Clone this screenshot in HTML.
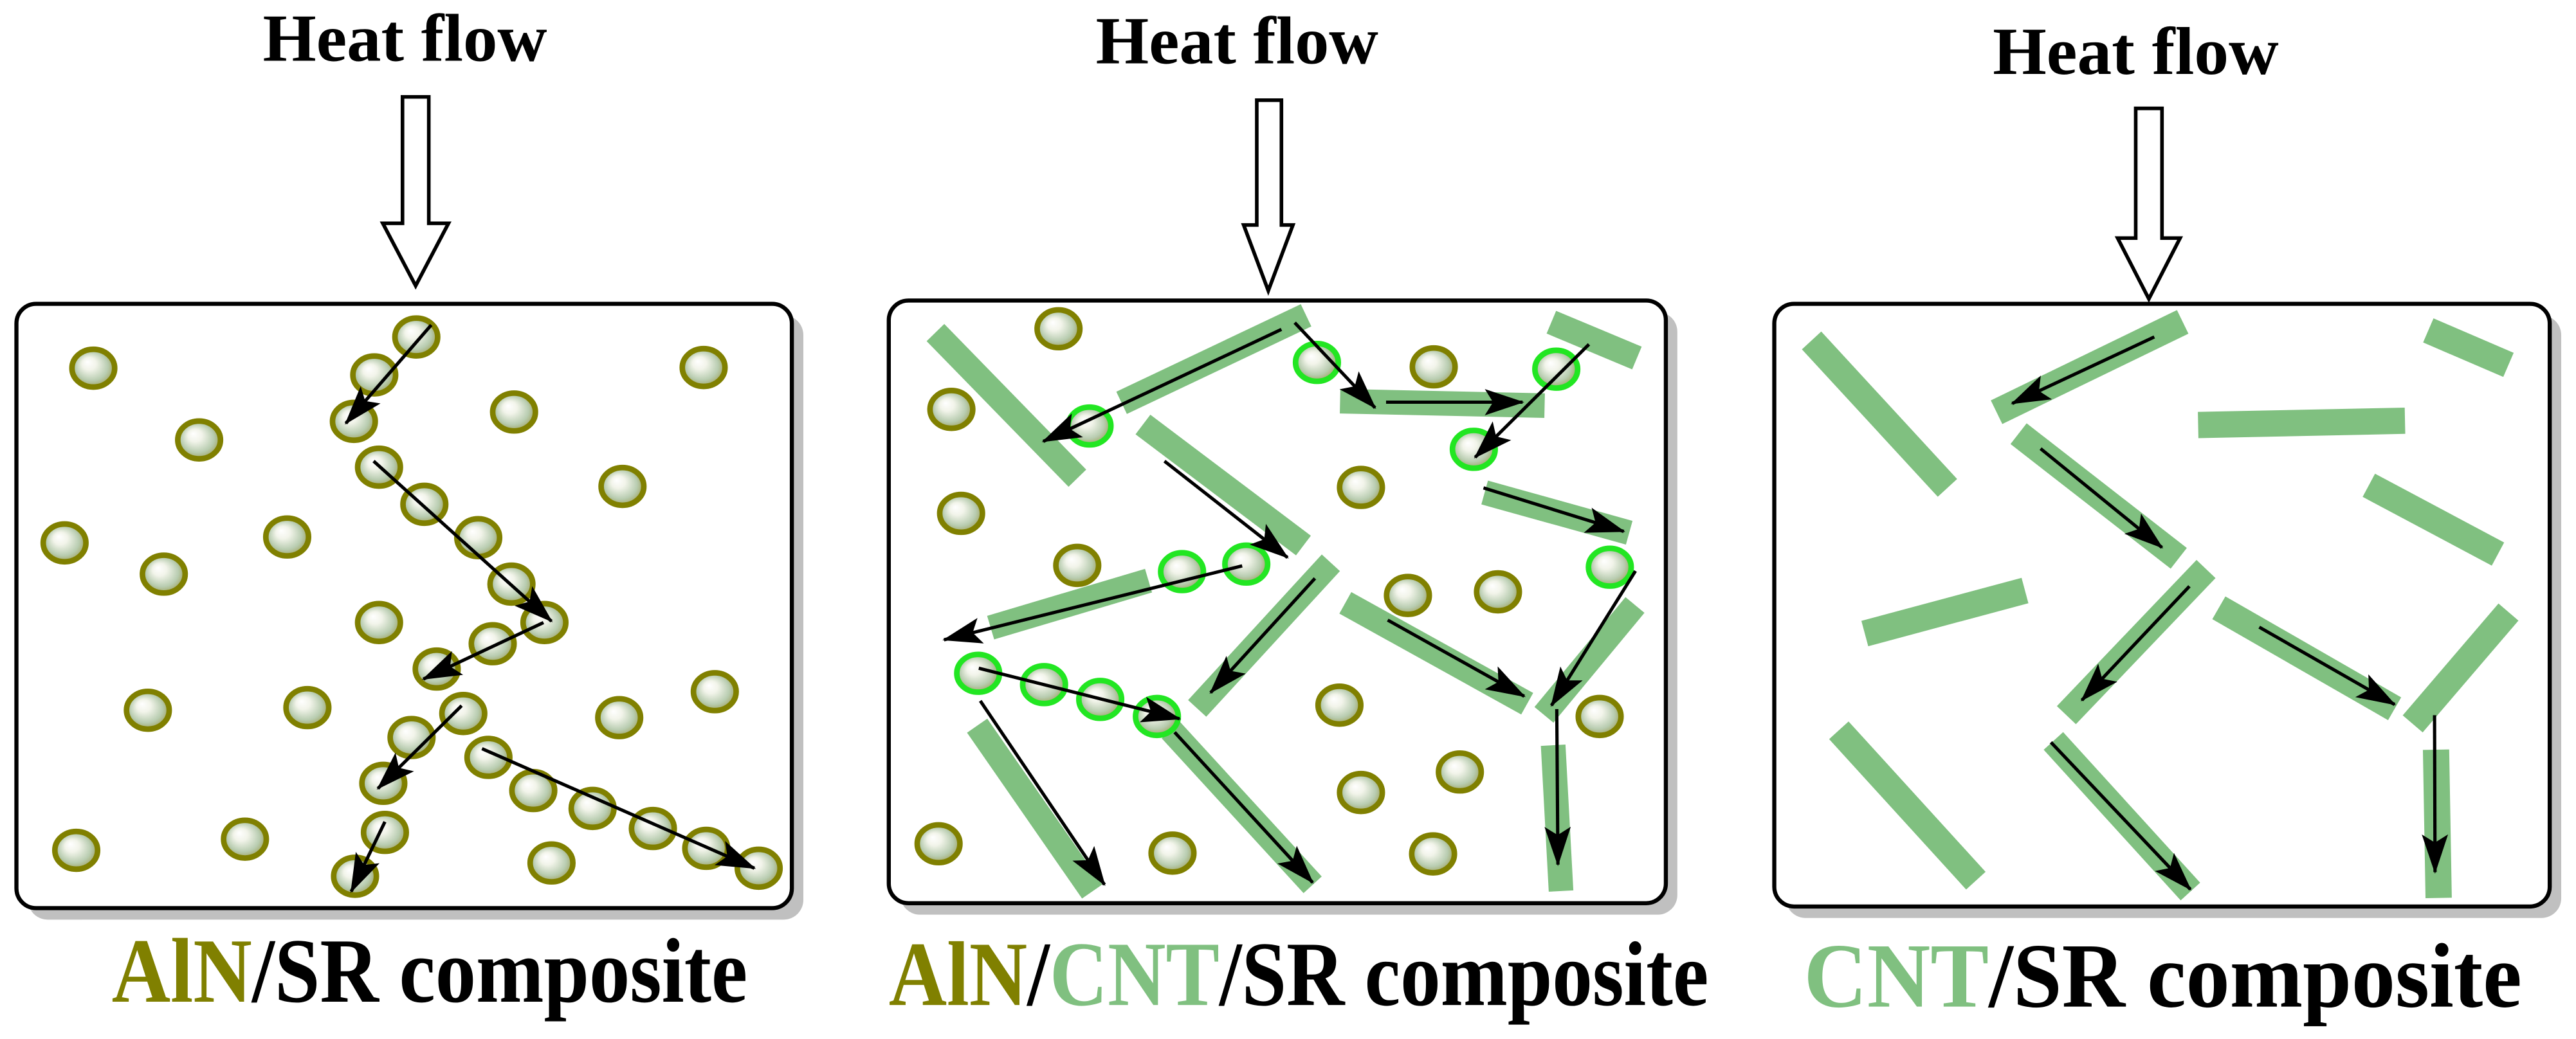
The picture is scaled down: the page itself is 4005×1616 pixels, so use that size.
<!DOCTYPE html>
<html><head><meta charset="utf-8"><style>html,body{margin:0;padding:0;background:#fff}svg{display:block}
.t,.t tspan{font-family:"Liberation Serif","DejaVu Serif",serif;font-weight:bold}</style></head><body>
<svg width="4005" height="1616" viewBox="0 0 1568 632.7" preserveAspectRatio="none" xmlns="http://www.w3.org/2000/svg">
<defs>
<radialGradient id="sg" cx="0.5" cy="0.5" r="0.55" fx="0.36" fy="0.33">
<stop offset="0" stop-color="#ffffff"/><stop offset="0.3" stop-color="#f2f4ea"/><stop offset="0.7" stop-color="#b8ccb0"/><stop offset="1" stop-color="#9a9a50"/>
</radialGradient>
<marker id="ah" markerUnits="userSpaceOnUse" markerWidth="26" markerHeight="18" refX="23" refY="9" orient="auto">
<path d="M0,1 L24,9 L0,17 L5,9 Z" fill="#000"/>
</marker>
<g id="sp"><ellipse rx="13" ry="11.5" fill="url(#sg)" stroke="#808000" stroke-width="3.4"/></g>
<g id="gsp"><ellipse rx="13" ry="11.5" fill="url(#sg)" stroke="#22e622" stroke-width="3.4"/></g>
</defs>

<g class="t" font-size="41" fill="#000">
<text x="160" y="37" textLength="173" lengthAdjust="spacingAndGlyphs">Heat flow</text>
<text x="667" y="38.5" textLength="172" lengthAdjust="spacingAndGlyphs">Heat flow</text>
<text x="1213" y="45" textLength="174" lengthAdjust="spacingAndGlyphs">Heat flow</text>
</g>

<g fill="#fff" stroke="#000" stroke-width="2.2" stroke-linejoin="miter">
<polygon points="245,59 261,59 261,136 273,136 253,174 233,136 245,136"/>
<polygon points="765,61 780,61 780,137 787,137 772,177 757,137 765,137"/>
<polygon points="1300,66 1316,66 1316,145 1327,145 1308,182 1289,145 1300,145"/>
</g>

<g>
<rect x="17" y="192" width="472" height="368" rx="12" fill="#c0c0c0"/>
<rect x="10" y="185" width="472" height="368" rx="12" fill="#fff" stroke="#000" stroke-width="2.5"/>
<rect x="548" y="190" width="473" height="367" rx="12" fill="#c0c0c0"/>
<rect x="541" y="183" width="473" height="367" rx="12" fill="#fff" stroke="#000" stroke-width="2.5"/>
<rect x="1087" y="192" width="472" height="367" rx="12" fill="#c0c0c0"/>
<rect x="1080" y="185" width="472" height="367" rx="12" fill="#fff" stroke="#000" stroke-width="2.5"/>
</g>

<g>
<use href="#sp" x="56.8" y="224.2"/><use href="#sp" x="253.4" y="205.2"/><use href="#sp" x="227.8" y="228.3"/>
<use href="#sp" x="215.4" y="256.6"/><use href="#sp" x="121.2" y="267.9"/><use href="#sp" x="312.9" y="250.9"/>
<use href="#sp" x="428.3" y="223.8"/><use href="#sp" x="230.7" y="284.5"/><use href="#sp" x="378.9" y="296.2"/>
<use href="#sp" x="258.3" y="307.1"/><use href="#sp" x="291.1" y="327.4"/><use href="#sp" x="39.3" y="330.6"/>
<use href="#sp" x="174.8" y="327"/><use href="#sp" x="99.7" y="349.6"/><use href="#sp" x="311.3" y="355.7"/>
<use href="#sp" x="331.4" y="379.1"/><use href="#sp" x="230.7" y="379.1"/><use href="#sp" x="299.9" y="392"/>
<use href="#sp" x="265.8" y="407.4"/><use href="#sp" x="282" y="434.5"/><use href="#sp" x="90" y="432.5"/>
<use href="#sp" x="187.1" y="430.9"/><use href="#sp" x="376.9" y="437"/><use href="#sp" x="435.1" y="421.2"/>
<use href="#sp" x="250.5" y="449.1"/><use href="#sp" x="297.3" y="461.2"/><use href="#sp" x="233.3" y="477"/>
<use href="#sp" x="324.6" y="481.4"/><use href="#sp" x="360.7" y="492.3"/><use href="#sp" x="397.4" y="504.5"/>
<use href="#sp" x="46.4" y="517.8"/><use href="#sp" x="149.1" y="511"/><use href="#sp" x="234.3" y="506.9"/>
<use href="#sp" x="335.7" y="525.5"/><use href="#sp" x="429.9" y="516.6"/><use href="#sp" x="216.1" y="533.6"/>
<use href="#sp" x="461.8" y="528.7"/>
</g>
<g stroke="#000" stroke-width="2" marker-end="url(#ah)">
<line x1="262.5" y1="197.9" x2="210.5" y2="257.8"/>
<line x1="227.4" y1="280.8" x2="335.7" y2="378.3"/>
<line x1="330.8" y1="379.1" x2="257.7" y2="413.5"/>
<line x1="281" y1="429.7" x2="230" y2="480.2"/>
<line x1="234.3" y1="500.4" x2="213.8" y2="542.9"/>
<line x1="293.4" y1="455.9" x2="459.2" y2="528.7"/>
</g>

<g stroke="#80c080" stroke-width="15" stroke-linecap="butt">
<line x1="569.4" y1="202.5" x2="655.8" y2="291.2"/>
<line x1="682.7" y1="245.3" x2="795" y2="192"/>
<line x1="815.7" y1="244.3" x2="940.2" y2="247"/>
<line x1="944.3" y1="196.2" x2="996.4" y2="218"/>
<line x1="695.7" y1="258.5" x2="793.4" y2="332.2"/>
<line x1="903.7" y1="299.9" x2="991.7" y2="324.4"/>
<line x1="603" y1="382.2" x2="699.1" y2="353.6"/>
<line x1="728.7" y1="431.4" x2="810.1" y2="342.7"/>
<line x1="818.9" y1="367.1" x2="929.6" y2="428.5"/>
<line x1="939.8" y1="435.3" x2="995.2" y2="368.4"/>
<line x1="594.8" y1="441.9" x2="664.8" y2="542.9"/>
<line x1="712.7" y1="444.6" x2="799" y2="538.8"/>
<line x1="945.4" y1="453.8" x2="950.2" y2="542.6"/>
</g>
<g>
<use href="#sp" x="644.3" y="200.2"/><use href="#sp" x="579.1" y="249.3"/><use href="#sp" x="872.7" y="223.4"/>
<use href="#sp" x="585" y="312.6"/><use href="#sp" x="828.4" y="296.8"/><use href="#sp" x="655.7" y="344.3"/>
<use href="#sp" x="857" y="362.6"/><use href="#sp" x="911.8" y="360.4"/><use href="#sp" x="815.3" y="429.4"/>
<use href="#sp" x="973.7" y="436.3"/><use href="#sp" x="888.6" y="470.1"/><use href="#sp" x="828.4" y="482.6"/>
<use href="#sp" x="571.3" y="513.8"/><use href="#sp" x="713.7" y="519.5"/><use href="#sp" x="872.3" y="520"/>
<use href="#gsp" x="801.6" y="220.7"/><use href="#gsp" x="663.2" y="259.4"/><use href="#gsp" x="947.3" y="224.8"/>
<use href="#gsp" x="897.1" y="273.6"/><use href="#gsp" x="719.5" y="348.1"/><use href="#gsp" x="758.6" y="343.5"/>
<use href="#gsp" x="979.9" y="345.4"/><use href="#gsp" x="595.4" y="410"/><use href="#gsp" x="635.5" y="416.9"/>
<use href="#gsp" x="669.7" y="425.9"/><use href="#gsp" x="704.2" y="436.3"/>
</g>
<g stroke="#000" stroke-width="2" marker-end="url(#ah)">
<line x1="780" y1="200.6" x2="635" y2="268.8"/>
<line x1="788.1" y1="196.5" x2="837" y2="248.3"/>
<line x1="843.7" y1="244.9" x2="926.8" y2="244.9"/>
<line x1="967.2" y1="209.7" x2="897.9" y2="278.5"/>
<line x1="708.8" y1="280.8" x2="783.7" y2="339.5"/>
<line x1="903" y1="297.1" x2="988.4" y2="323.6"/>
<line x1="756.1" y1="344.6" x2="574.6" y2="389.6"/>
<line x1="800.4" y1="352.2" x2="736.9" y2="421.8"/>
<line x1="844.7" y1="377.6" x2="927.8" y2="424"/>
<line x1="995.5" y1="347.7" x2="944.4" y2="429.6"/>
<line x1="947.6" y1="431.8" x2="948.3" y2="526.5"/>
<line x1="595.8" y1="406.9" x2="718" y2="437.7"/>
<line x1="596.7" y1="426.8" x2="672.3" y2="538.7"/>
<line x1="715" y1="445.9" x2="799" y2="537.4"/>
</g>

<g stroke="#80c080" stroke-width="16" stroke-linecap="butt">
<line x1="1102.7" y1="207.3" x2="1185.4" y2="297.1"/>
<line x1="1215.3" y1="251" x2="1328.6" y2="196"/>
<line x1="1338" y1="258.8" x2="1463.9" y2="256.2"/>
<line x1="1478.1" y1="201.2" x2="1526.9" y2="222.2"/>
<line x1="1228.7" y1="264.1" x2="1326.2" y2="340"/>
<line x1="1441.9" y1="295.5" x2="1520.5" y2="337.4"/>
<line x1="1135.1" y1="385.8" x2="1232.6" y2="359.6"/>
<line x1="1257.8" y1="435.5" x2="1342.8" y2="346.5"/>
<line x1="1350.6" y1="370.1" x2="1457.6" y2="431.6"/>
<line x1="1468.6" y1="440.8" x2="1526.9" y2="372.7"/>
<line x1="1119.3" y1="444.7" x2="1202.7" y2="536.3"/>
<line x1="1249.9" y1="451.2" x2="1333.3" y2="542.9"/>
<line x1="1482.8" y1="456.5" x2="1484.4" y2="546.8"/>
</g>
<g stroke="#000" stroke-width="2" marker-end="url(#ah)">
<line x1="1311.3" y1="205.2" x2="1224.8" y2="245.7"/>
<line x1="1242.1" y1="273.2" x2="1316" y2="333.4"/>
<line x1="1332.7" y1="357" x2="1267.2" y2="426.4"/>
<line x1="1375.2" y1="381.9" x2="1457.6" y2="429"/>
<line x1="1481.9" y1="435.5" x2="1482.2" y2="531.1"/>
<line x1="1248.4" y1="452" x2="1333.3" y2="541.6"/>
</g>

<g class="t" font-size="56">
<text x="68" y="610" textLength="387" lengthAdjust="spacingAndGlyphs" font-family="Liberation Serif, serif"><tspan fill="#808000">AlN</tspan><tspan fill="#000">/SR composite</tspan></text>
<text x="541" y="612" textLength="499" lengthAdjust="spacingAndGlyphs" font-family="Liberation Serif, serif"><tspan fill="#808000">AlN</tspan><tspan fill="#000">/</tspan><tspan fill="#80c080">CNT</tspan><tspan fill="#000">/SR composite</tspan></text>
<text x="1098" y="613" textLength="437" lengthAdjust="spacingAndGlyphs" font-family="Liberation Serif, serif"><tspan fill="#80c080">CNT</tspan><tspan fill="#000">/SR composite</tspan></text>
</g>
</svg>
</body></html>
